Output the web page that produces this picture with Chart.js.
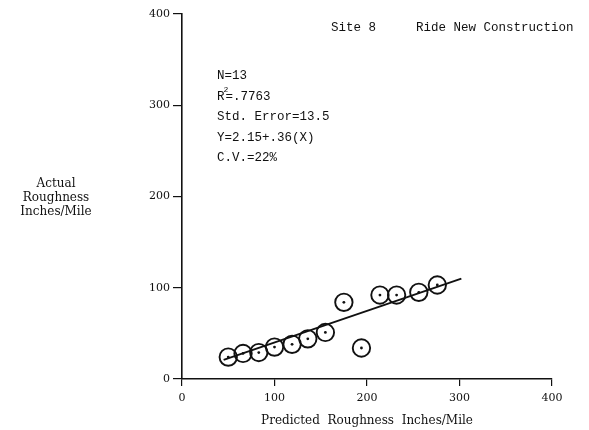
<!DOCTYPE html>
<html>
<head>
<meta charset="utf-8">
<script src="https://cdn.jsdelivr.net/npm/chart.js@4.4.1/dist/chart.umd.min.js"></script>
<style>
  body { margin: 0; background: #fff; }
  #chart { display: block; }
</style>
</head>
<body>
<canvas id="chart" width="589" height="430"></canvas>
<script>
// values
const predicted = [50, 66, 83, 100, 119, 136, 155, 175, 194, 214, 232, 256, 276];
const actual = [24, 28, 29, 35, 38, 44, 51, 84, 34, 92, 92, 95, 103];

// fitted line Y = 2.15 + .36(X), end points as drawn
const fitX = [45, 302];
const fitY = [21, 110];

const tickValues = [0, 100, 200, 300, 400];

const statLines = ['N=13', 'R2=.7763', 'Std. Error=13.5', 'Y=2.15+.36(X)', 'C.V.=22%'];
const yTitleLines = ['Actual', 'Roughness', 'Inches/Mile'];

const ink = '#111';

const points = predicted.map((x, i) => ({ x: x, y: actual[i] }));
const fitLine = fitX.map((x, i) => ({ x: x, y: fitY[i] }));

// draws the free text: header, stats block and the horizontal y title
const textPlugin = {
  id: 'notes',
  afterDraw(chart) {
    const ctx = chart.ctx;
    ctx.save();
    ctx.fillStyle = ink;
    ctx.textBaseline = 'middle';

    ctx.font = '12.5px "Liberation Mono"';
    ctx.textAlign = 'left';
    ctx.fillText('Site 8', 331, 28);
    ctx.fillText('Ride New Construction', 416, 28);

    statLines.forEach((line, i) => {
      const y = 76 + i * 20.5;
      if (line.startsWith('R2')) {
        ctx.fillText('R', 217, y);
        const w = ctx.measureText('R').width;
        ctx.font = '8px "Liberation Mono"';
        ctx.fillText('2', 217 + w - 1, y - 7);
        ctx.font = '12.5px "Liberation Mono"';
        ctx.fillText(line.slice(2), 217 + w + 1, y);
      } else {
        ctx.fillText(line, 217, y);
      }
    });

    ctx.font = '12px "DejaVu Serif"';
    ctx.textAlign = 'center';
    yTitleLines.forEach((line, i) => {
      ctx.fillText(line, 56, 184 + i * 14);
    });
    ctx.restore();
  }
};

const config = {
  type: 'scatter',
  data: {
    datasets: [
      {
        label: 'fit',
        type: 'line',
        data: fitLine,
        borderColor: ink,
        borderWidth: 1.8,
        pointRadius: 0,
        fill: false,
        tension: 0
      },
      {
        label: 'sites',
        data: points,
        pointRadius: 8.7,
        borderWidth: 1.9,
        borderColor: ink,
        backgroundColor: 'rgba(0,0,0,0)'
      },
      {
        label: 'centres',
        data: points,
        pointRadius: 1.4,
        borderWidth: 0,
        backgroundColor: ink
      }
    ]
  },
  options: {
    responsive: false,
    animation: false,
    layout: {
      padding: { top: 14, right: 37, left: 0, bottom: 0 }
    },
    plugins: {
      legend: { display: false },
      tooltip: { enabled: false },
      title: { display: false }
    },
    scales: {
      x: {
        type: 'linear',
        min: 0,
        max: 400,
        afterBuildTicks: (scale) => { scale.ticks = tickValues.map(v => ({ value: v })); },
        afterFit: (scale) => { scale.height = 51; },
        grid: { drawOnChartArea: false, drawTicks: true, tickLength: 7, color: ink, lineWidth: 1.2 },
        border: { display: true, color: ink, width: 1.6 },
        ticks: {
          padding: 6,
          color: ink,
          font: { family: 'DejaVu Serif', size: 11 }
        },
        title: {
          display: true,
          text: 'Predicted  Roughness  Inches/Mile',
          color: ink,
          font: { family: 'DejaVu Serif', size: 12 },
          padding: { top: 0, bottom: 2 }
        }
      },
      y: {
        type: 'linear',
        min: 0,
        max: 400,
        afterBuildTicks: (scale) => { scale.ticks = tickValues.map(v => ({ value: v })); },
        afterFit: (scale) => { scale.width = 182; },
        grid: { drawOnChartArea: false, drawTicks: true, tickLength: 9, color: ink, lineWidth: 1.2 },
        border: { display: true, color: ink, width: 1.6 },
        ticks: {
          padding: 3,
          color: ink,
          font: { family: 'DejaVu Serif', size: 11 }
        }
      }
    }
  },
  plugins: [textPlugin]
};

new Chart(document.getElementById('chart').getContext('2d'), config);
</script>
</body>
</html>
